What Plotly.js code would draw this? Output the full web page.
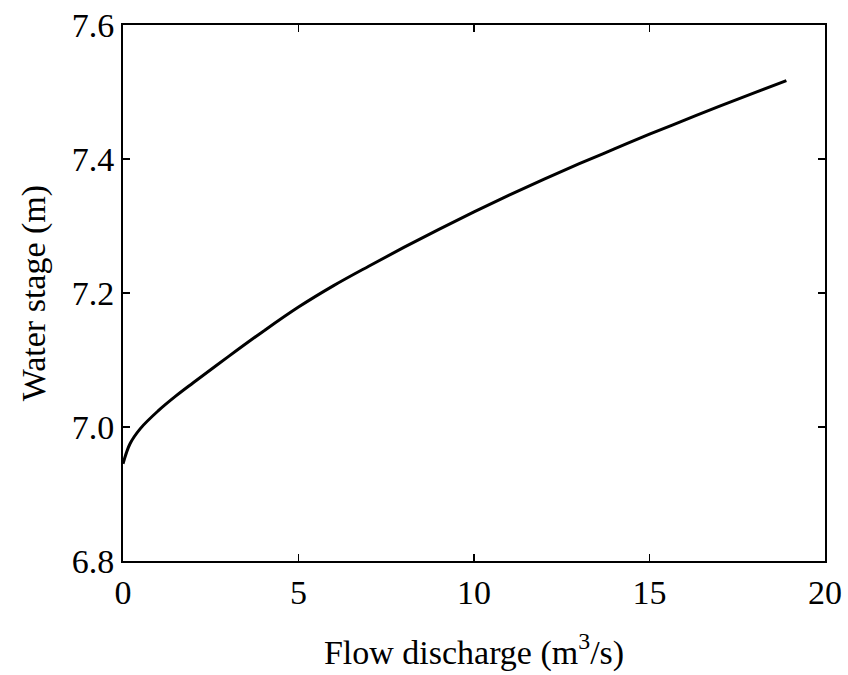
<!DOCTYPE html>
<html>
<head>
<meta charset="utf-8">
<script src="https://cdn.plot.ly/plotly-3.0.1.min.js"></script>
<style>html,body{margin:0;padding:0;background:#fff;}#chart{width:848px;height:675px;}</style>
</head>
<body>
<div id="chart"></div>
<script>
// Flow discharge (m3/s)
var discharge = [0, 0.2, 0.5, 1, 1.5, 2, 3, 4, 5, 6, 7, 8, 9, 10, 11, 12, 13, 14, 15, 16, 17, 18, 18.9];
// Water stage (m)
var stage = [6.945, 6.975, 6.998, 7.024, 7.046, 7.066, 7.105, 7.143, 7.179, 7.211, 7.240, 7.268, 7.295, 7.321, 7.346, 7.370, 7.393, 7.415, 7.437, 7.458, 7.479, 7.499, 7.517];
var xTicks = [0, 5, 10, 15, 20];
var yTicks = [6.8, 7.0, 7.2, 7.4, 7.6];

// pick the first installed serif face
function pickFont(cands) {
  var c = document.createElement('canvas').getContext('2d');
  var s = 'WaterFlowg 0123456789 mmmmiiii';
  var bases = ['monospace', 'sans-serif'];
  for (var i = 0; i < cands.length; i++) {
    for (var b = 0; b < bases.length; b++) {
      c.font = '40px ' + bases[b];
      var w0 = c.measureText(s).width;
      c.font = '40px "' + cands[i] + '", ' + bases[b];
      if (Math.abs(c.measureText(s).width - w0) > 0.5) return cands[i];
    }
  }
  return 'serif';
}
var serifFace = pickFont(['Liberation Serif', 'Times New Roman', 'Tinos', 'Nimbus Roman', 'Nimbus Roman No9 L', 'FreeSerif', 'Noto Serif', 'DejaVu Serif', 'Times']);

var font = {family: '"' + serifFace + '", serif', size: 34, color: '#000'};

var trace = {
  x: discharge, y: stage, type: 'scatter', mode: 'lines',
  line: {color: '#000', width: 3, shape: 'spline', smoothing: 1},
  hoverinfo: 'skip'
};

var axisCommon = {
  showgrid: false, zeroline: false, showline: true, linecolor: '#000', linewidth: 2,
  mirror: 'ticks', ticks: 'inside', ticklen: 7, tickwidth: 1.5, tickcolor: '#000',
  tickfont: font
};

var layout = {
  width: 848, height: 675,
  margin: {l: 123, r: 23, t: 25, b: 114},
  paper_bgcolor: '#fff', plot_bgcolor: '#fff',
  showlegend: false,
  font: font,
  xaxis: Object.assign({}, axisCommon, {
    range: [0, 20], tickvals: xTicks, ticktext: xTicks.map(String),
    title: {text: 'Flow discharge (m<sup>3</sup>/s)', font: font, standoff: 30}
  }),
  yaxis: Object.assign({}, axisCommon, {
    range: [6.8, 7.6], tickvals: yTicks, ticktext: yTicks.map(function(v){return v.toFixed(1);}),
    title: {text: 'Water stage (m)', font: font, standoff: 16}
  })
};

Plotly.newPlot('chart', [trace], layout, {staticPlot: true, displayModeBar: false});
</script>
</body>
</html>
